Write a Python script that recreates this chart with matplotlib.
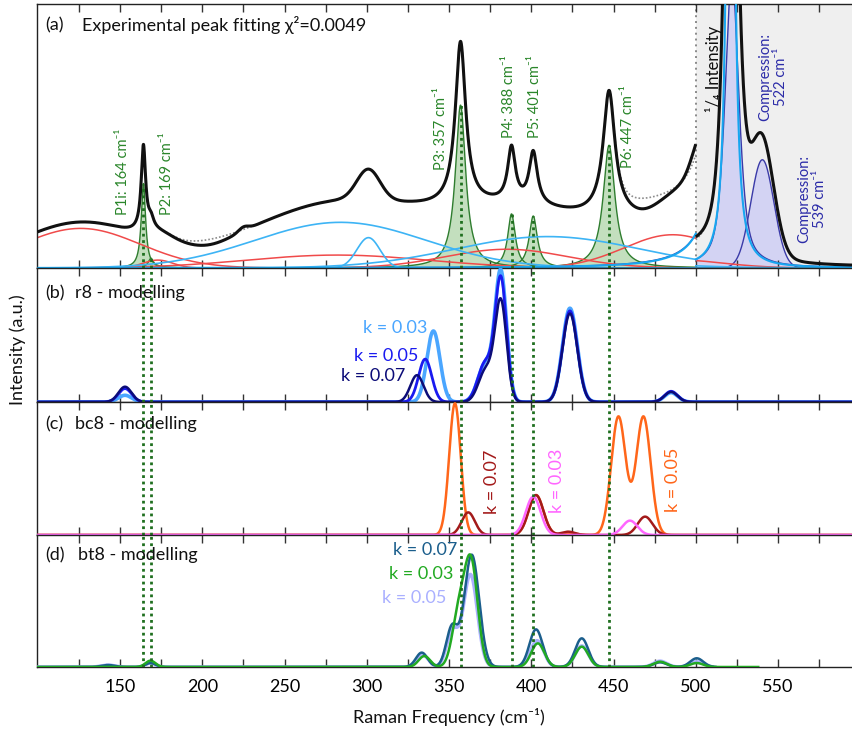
import numpy as np
import matplotlib
matplotlib.use("Agg")
import matplotlib.pyplot as plt
from matplotlib.ticker import FixedLocator

plt.rcParams['font.family'] = ['Lato', 'DejaVu Sans']

# ---------------- (a) experimental peak fitting ----------------
# broad red bands (Gaussian: centre, height, sigma)
red_centres = [126.0, 173.0, 282.0, 385.0, 486.0]
red_heights = [15.0, 3.0, 4.9, 7.1, 12.6]
red_sigmas = [36.0, 9.0, 55.0, 37.0, 29.5]

# light-blue bands (Gaussian)
blue_centres = [284.0, 301.0, 410.0]
blue_heights = [17.3, 11.5, 11.9]
blue_sigmas = [52.0, 7.0, 56.0]

# assigned peaks (Lorentzian: centre, height, half width)
peak_names = ["P1i", "P2", "P3", "P4", "P5", "P6"]
peak_freqs = [164, 169, 357, 388, 401, 447]
peak_centres = [164.2, 168.8, 357.0, 388.0, 401.2, 447.3]
peak_heights = [32.0, 3.7, 61.7, 20.5, 19.7, 46.5]
peak_hwhm = [1.6, 2.0, 3.8, 2.8, 3.0, 4.3]

# crystalline Si line (Lorentzian) and compression bands (pseudo-Voigt)
si_centre, si_height, si_hwhm = 521.2, 1472.0, 2.0
comp_freqs = [522, 539]
comp_centres = [522.0, 540.5]
comp_heights = [440.0, 164.0]
comp_fwhm = [10.0, 16.5]
comp_eta = [0.6, 0.0]

fit_background = 2.0
# measured spectrum minus fit
resid_centres = [205.0, 225.0, 468.0, 500.0]
resid_heights = [-2.0, 1.5, -4.0, 4.0]
resid_sigmas = [12.0, 3.0, 10.0, 4.0]

scale_edge = 500.0   # spectrum drawn at 1/4 intensity above this frequency

# ---------------- (b) r8 modelling ----------------
r8_k = ["0.03", "0.05", "0.07"]
r8_centres = [[153, 340.5, 372, 381.5, 423.5, 485],
              [153, 335.5, 372, 381.5, 423.5, 485],
              [153, 330.5, 372.5, 381.5, 423.5, 485]]
r8_heights = [[5, 53, 28, 96, 70, 7],
              [10, 32, 29, 91, 68, 8],
              [11.4, 20, 24, 74, 66, 7.5]]
r8_sigmas = [4.0, 4.0, 4.5, 3.5, 4.5, 4.0]

# ---------------- (c) bc8 modelling ----------------
bc8_k = ["0.05", "0.07", "0.03"]
bc8_centres = [[353.6, 402.9, 425.0, 453.0, 468.2],
               [361.7, 402.9, 422.4, 469.2],
               [401.2, 460.0]]
bc8_heights = [[99, 30, 1, 89, 89],
               [17, 30, 2.5, 13.8],
               [28.8, 10.8]]
bc8_sigmas = [[3.5, 4.5, 4.0, 4.4, 4.4],
              [4.0, 4.5, 4.0, 4.5],
              [4.5, 4.5]]

# ---------------- (d) bt8 modelling ----------------
bt8_k = ["0.05", "0.07", "0.03"]
bt8_centres = [[142.7, 168.5, 334.0, 352.0, 363.0, 403.5, 430.7, 478.3, 500.6],
               [142.7, 168.5, 333.4, 351.8, 363.8, 402.9, 430.7, 478.3, 500.6],
               [168.5, 335.0, 356.0, 363.5, 404.0, 430.7, 478.3, 500.6]]
bt8_heights = [[1.5, 3.0, 9.0, 27.0, 70.0, 20.0, 16.0, 4.5, 4.0],
               [1.5, 3.0, 10.9, 30.0, 85.0, 28.5, 21.7, 3.5, 6.6],
               [4.8, 8.3, 40.0, 77.0, 17.9, 15.4, 4.0, 3.0]]
bt8_sigmas = [[4, 3, 3.5, 3.5, 4.2, 4, 4, 4, 4],
              [4, 3, 3.5, 3.5, 4.5, 4, 4, 4, 4],
              [3, 3.5, 4, 4, 4, 4, 4, 4]]
bt8_xmax = [510.0, 512.0, 538.0]

tick_major = [150, 200, 250, 300, 350, 400, 450, 500, 550]
tick_minor = [125, 175, 225, 275, 325, 375, 425, 475, 525, 575]


def gauss(x, c, h, s):
    return h * np.exp(-0.5 * ((x - c) / s) ** 2)


def lorentz(x, c, h, g):
    return h / (1.0 + ((x - c) / g) ** 2)


def pvoigt(x, c, h, fwhm, eta):
    g = np.exp(-4 * np.log(2) * ((x - c) / fwhm) ** 2)
    l = 1.0 / (1.0 + (2 * (x - c) / fwhm) ** 2)
    return h * (eta * l + (1 - eta) * g)


def gsum(x, cs, hs, ss):
    y = np.zeros_like(x)
    for c, h, s in zip(cs, hs, ss):
        y += gauss(x, c, h, s)
    return y


XMIN, XMAX = 99.5, 595.0
x = np.arange(XMIN, XMAX + 0.01, 0.05)
left = x <= scale_edge
right = x >= scale_edge

fig = plt.figure(figsize=(8.52, 7.31), dpi=100)
W, H = 852.0, 731.0
L = 37 / W
AW = (852 - 37) / W
ax_a = fig.add_axes([L, 1 - 268 / H, AW, 264 / H])
ax_b = fig.add_axes([L, 1 - 402 / H, AW, 134 / H])
ax_c = fig.add_axes([L, 1 - 535 / H, AW, 133 / H])
ax_d = fig.add_axes([L, 1 - 667 / H, AW, 132 / H])
axes = [ax_a, ax_b, ax_c, ax_d]

for ax in axes:
    ax.set_xlim(XMIN, XMAX)
    ax.set_ylim(0, 100)
    ax.set_yticks([])
    ax.spines['right'].set_visible(False)
    for s in ['left', 'top', 'bottom']:
        ax.spines[s].set_linewidth(1.0)
        ax.spines[s].set_color('#222222')
    ax.xaxis.set_major_locator(FixedLocator(tick_major))
    ax.xaxis.set_minor_locator(FixedLocator(tick_minor))
    ax.tick_params(axis='x', which='both', direction='in', top=True, bottom=True,
                   length=6, width=1.0, color='#333333', labelbottom=False,
                   labelsize=13, pad=9)
ax_d.tick_params(axis='x', which='major', labelbottom=True)


def split_plot(ax, y, **kw):
    ax.plot(x[left], y[left], **kw)
    ax.plot(x[right], y[right] / 4.0, **kw)


def split_fill(ax, y, fc, ec, z, fill_left=True):
    if fill_left:
        ax.fill_between(x[left], 0, y[left], facecolor=fc, edgecolor='none', zorder=z)
    ax.fill_between(x[right], 0, y[right] / 4.0, facecolor=fc, edgecolor='none', zorder=z)
    split_plot(ax, y, color=ec, lw=1.0, zorder=z + 0.1)


# ---- panel (a)
ax_a.axvspan(scale_edge, XMAX, color='#efefef', zorder=0, lw=0)
ax_a.axvline(scale_edge, color='#8a8a8a', ls=(0, (1, 2)), lw=1.4, zorder=0.5)

fit = np.full_like(x, fit_background)
for c, h, s in zip(red_centres, red_heights, red_sigmas):
    y = gauss(x, c, h, s)
    fit += y
    split_plot(ax_a, y, color='#f04a4a', lw=1.1, zorder=2)
for c, h, s in zip(blue_centres, blue_heights, blue_sigmas):
    y = gauss(x, c, h, s)
    fit += y
    split_plot(ax_a, y, color='#3db4f5', lw=1.2, zorder=2)
for c, h, g in zip(peak_centres, peak_heights, peak_hwhm):
    y = lorentz(x, c, h, g)
    fit += y
    split_fill(ax_a, y, '#c3dfbe', '#2f7d2f', 1.5)
for c, h, fw, eta in zip(comp_centres, comp_heights, comp_fwhm, comp_eta):
    y = pvoigt(x, c, h, fw, eta)
    fit += y
    split_fill(ax_a, y, '#d3d3f3', '#3a3aa8', 1.4, fill_left=False)
y_si = lorentz(x, si_centre, si_height, si_hwhm)
fit += y_si
split_plot(ax_a, y_si, color='#18a6f0', lw=1.5, zorder=3)

measured = fit + gsum(x, resid_centres, resid_heights, resid_sigmas)
split_plot(ax_a, fit, color='#8c8c8c', lw=1.2, ls=(0, (1, 1.2)), zorder=3.5)
split_plot(ax_a, measured, color='#111111', lw=2.2, zorder=4, solid_capstyle='butt')

for c, h in zip(peak_centres, peak_heights):
    ax_a.vlines(c, 0, h, colors='#1f6f1f', linestyles=(0, (1, 1.3)), lw=2.0, zorder=6)
for ax in axes[1:]:
    for c in peak_centres:
        ax.axvline(c, color='#1f6f1f', ls=(0, (1, 1.3)), lw=2.0, zorder=6)

green_txt = '#2a862a'
label_pos = [(151.5, 20.1), (178.6, 20.1), (345.4, 37.1), (386.5, 49.2), (402.0, 49.2), (459.1, 37.9)]
for name, f, (lx, ly) in zip(peak_names, peak_freqs, label_pos):
    ax_a.text(lx, ly, f"{name}: {f} cm\u207b\u00b9", rotation=90, ha='center', va='bottom',
              color=green_txt, fontsize=10.5, zorder=7)

ax_a.text(511.0, 75.4, "\u00b9/\u2084 Intensity", rotation=90, ha='center', va='center',
          color='#111111', fontsize=12, zorder=7)
ax_a.text(547.0, 72.3, f"Compression:\n{comp_freqs[0]} cm\u207b\u00b9", rotation=90,
          ha='center', va='center', multialignment='center', color='#2b2ba8',
          fontsize=10.5, linespacing=1.15, zorder=7)
ax_a.text(570.7, 26.1, f"Compression:\n{comp_freqs[1]} cm\u207b\u00b9", rotation=90,
          ha='center', va='center', multialignment='center', color='#2b2ba8',
          fontsize=10.5, linespacing=1.15, zorder=7)

# ---- panel (b)
r8_colours = ['#4aa6ff', '#1a1af0', '#0c0c78']
r8_lw = [2.6, 2.0, 1.8]
for cs, hs, col, lw in zip(r8_centres, r8_heights, r8_colours, r8_lw):
    ax_b.plot(x, gsum(x, cs, hs, r8_sigmas), color=col, lw=lw, zorder=3)
r8_label_pos = [(427, 328), (418, 356), (405, 376)]
for k, col, (px, py) in zip(r8_k, r8_colours, r8_label_pos):
    ax_b.text(150 + (px - 120) / 1.645, (402 - py) / 1.34, f"k = {k}", color=col,
              fontsize=13, ha='right', va='center', zorder=7)

# ---- panel (c)
bc8_colours = ['#ff661a', '#a31a1a', '#ff66ff']
for cs, hs, ss, col in zip(bc8_centres, bc8_heights, bc8_sigmas, bc8_colours):
    ax_c.plot(x, gsum(x, cs, hs, ss), color=col, lw=1.8, zorder=3)
bc8_label_pos = [(673, 480), (491.7, 482), (556.7, 481)]
for k, col, (px, py) in zip(bc8_k, bc8_colours, bc8_label_pos):
    ax_c.text(150 + (px - 120) / 1.645, (535 - py) / 1.33, f"k = {k}", color=col,
              fontsize=13, rotation=90, ha='center', va='center', zorder=7)

# ---- panel (d)
bt8_colours = ['#aab0ff', '#1b5e8c', '#22aa22']
bt8_lw = [2.4, 1.8, 1.8]
for cs, hs, ss, col, lw, xm in zip(bt8_centres, bt8_heights, bt8_sigmas, bt8_colours, bt8_lw, bt8_xmax):
    m = x <= xm
    ax_d.plot(x[m], gsum(x[m], cs, hs, ss), color=col, lw=lw, zorder=3)
bt8_label_pos = [(446, 598), (457, 550), (453, 574)]
for k, col, (px, py) in zip(bt8_k, bt8_colours, bt8_label_pos):
    ax_d.text(150 + (px - 120) / 1.645, (667 - py) / 1.32, f"k = {k}", color=col,
              fontsize=13, ha='right', va='center', zorder=7)

# ---- panel titles
titles = [("(a)", "Experimental peak fitting \u03c7\u00b2=0.0049", 82, 25, 268, 264),
          ("(b)", "r8 - modelling", 75, 293, 402, 134),
          ("(c)", "bc8 - modelling", 75, 424, 535, 133),
          ("(d)", "bt8 - modelling", 78, 555, 667, 132)]
for ax, (tag, txt, px2, py, bot, hgt) in zip(axes, titles):
    yf = (bot - py) / hgt
    ax.text((45 - 37) / 815, yf, tag, transform=ax.transAxes, fontsize=13,
            ha='left', va='center', color='#111111', zorder=8)
    ax.text((px2 - 37) / 815, yf, txt, transform=ax.transAxes, fontsize=13,
            ha='left', va='center', color='#111111', zorder=8)

fig.text(449 / W, 1 - 717 / H, "Raman Frequency (cm\u207b\u00b9)", ha='center', va='center',
         fontsize=13, color='#111111')
fig.text(18 / W, 1 - 350 / H, "Intensity (a.u.)", rotation=90, ha='center', va='center',
         fontsize=13, color='#111111')

fig.savefig("out.png", dpi=100)
